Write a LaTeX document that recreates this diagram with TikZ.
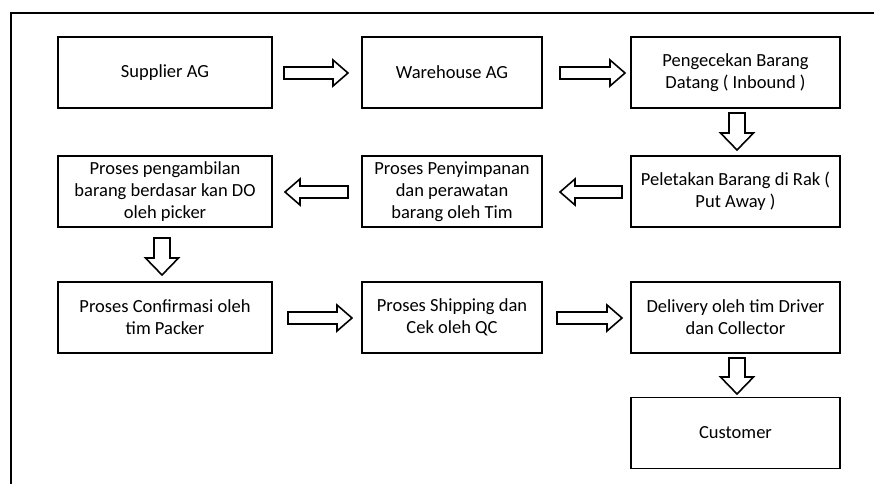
\documentclass[tikz,border=0pt]{standalone}
\usepackage{fontspec}
\setmainfont{Carlito}
\newcommand\myrarr[3]{\draw[blockarr] (#1,#3-6) -- (#2-15,#3-6) -- (#2-15,#3-13) -- (#2,#3) -- (#2-15,#3+13) -- (#2-15,#3+6) -- (#1,#3+6) -- cycle;}
\newcommand\mylarr[3]{\draw[blockarr] (#1,#3-6) -- (#2+15,#3-6) -- (#2+15,#3-13) -- (#2,#3) -- (#2+15,#3+13) -- (#2+15,#3+6) -- (#1,#3+6) -- cycle;}
\newcommand\mydarr[3]{\draw[blockarr] (#1-8,#2) -- (#1-8,#3-17) -- (#1-16.5,#3-17) -- (#1,#3) -- (#1+16.5,#3-17) -- (#1+8,#3-17) -- (#1+8,#2) -- cycle;}
\begin{document}
\begin{tikzpicture}[x=1pt,y=-1pt,
  box/.style={draw,line width=1.7pt,minimum height=71pt,align=center,inner sep=0pt,
    font=\fontsize{18.5}{22}\selectfont},
  blockarr/.style={draw,line width=1.6pt,fill=white,line join=miter}]
\useasboundingbox (0,0) rectangle (874,484);
\draw[line width=1.7pt] (11,484) -- (11,13) -- (874,13);
% row 1
\node[box,minimum width=214pt] (sup) at (165,72.5) {Supplier AG};
\node[box,minimum width=180pt] (wh) at (452,72.5) {Warehouse AG};
\node[box,minimum width=209pt] (cek) at (735.5,72.5) {Pengecekan Barang\\Datang ( Inbound )};
% row 2
\node[box,minimum width=214pt] (amb) at (165,191.5) {Proses pengambilan\\barang berdasar kan DO\\oleh picker};
\node[box,minimum width=180pt] (sim) at (452,191.5) {Proses Penyimpanan\\dan perawatan\\barang oleh Tim};
\node[box,minimum width=209pt] (put) at (735.5,191.5) {Peletakan Barang di Rak (\\Put Away )};
% row 3
\node[box,minimum width=214pt] (conf) at (165,317.5) {Proses Confirmasi oleh\\tim Packer};
\node[box,minimum width=180pt] (ship) at (452,317.5) {Proses Shipping dan\\Cek oleh QC};
\node[box,minimum width=209pt] (del) at (735.5,317.5) {Delivery oleh tim Driver\\dan Collector};
% row 4
\node[box,minimum width=209pt] (cus) at (735.5,433) {Customer};
% block arrows
\myrarr{284}{348}{73}
\myrarr{560}{625}{73}
\mydarr{737}{113}{150}
\mylarr{622}{560}{192}
\mylarr{348}{285}{192}
\mydarr{162}{238}{275}
\myrarr{288}{352}{318}
\myrarr{557}{622}{318}
\mydarr{737}{358}{394}
\end{tikzpicture}
\end{document}
